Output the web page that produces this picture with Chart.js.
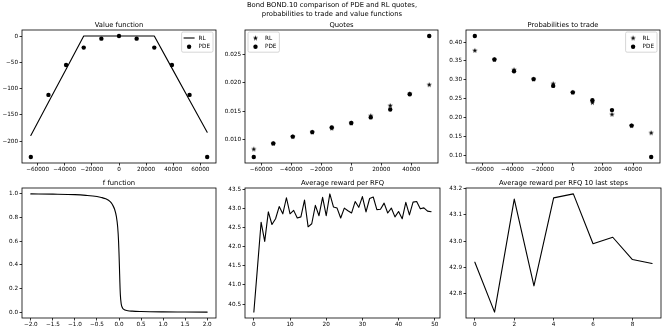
<!DOCTYPE html>
<html>
<head>
<meta charset="utf-8">
<script src="https://cdn.jsdelivr.net/npm/chart.js@4.4.1/dist/chart.umd.min.js"></script>
<style>
  html, body { margin: 0; padding: 0; background: #fff; }
  #page { position: relative; width: 664px; height: 332px; overflow: hidden; }
  .panel { position: absolute; }
  #sup { position: absolute; left: 0; top: 0; }
</style>
</head>
<body>
<div id="page">
  <canvas id="sup" width="664" height="20"></canvas>
  <div class="panel" id="p0"><canvas id="c0"></canvas></div>
  <div class="panel" id="p1"><canvas id="c1"></canvas></div>
  <div class="panel" id="p2"><canvas id="c2"></canvas></div>
  <div class="panel" id="p3"><canvas id="c3"></canvas></div>
  <div class="panel" id="p4"><canvas id="c4"></canvas></div>
  <div class="panel" id="p5"><canvas id="c5"></canvas></div>
</div>
<script>
// ---- data ----
const suptitleLines = ['Bond BOND.10 comparison of PDE and RL quotes,', 'probabilities to trade and value functions'];

const inventoryValue = [-65000, -52000, -39000, -26000, -13000, 0, 13000, 26000, 39000, 52000, 65000];
const valueRL  = [-189, -126, -63, 0, 0, 0, 0, 0, -61, -122, -183];
const valuePDE = [-230, -112, -55, -22, -5, 0, -5, -22, -55, -112, -230];

const inventoryQuote = [-65000, -52000, -39000, -26000, -13000, 0, 13000, 26000, 39000, 52000];
const quoteRL  = [0.0083, 0.0093, 0.0105, 0.0113, 0.0120, 0.0129, 0.0142, 0.0160, 0.0181, 0.0197];
const quotePDE = [0.0069, 0.0093, 0.0105, 0.0113, 0.0121, 0.0129, 0.0139, 0.0153, 0.0180, 0.0283];
const probRL   = [0.378, 0.354, 0.327, 0.302, 0.290, 0.267, 0.240, 0.209, 0.179, 0.160];
const probPDE  = [0.416, 0.354, 0.323, 0.302, 0.284, 0.267, 0.246, 0.220, 0.179, 0.096];

const fX = [-2.0, -1.5, -1.0, -0.75, -0.5, -0.4, -0.3, -0.2, -0.15, -0.1, -0.06, -0.03, -0.01, 0, 0.01, 0.02, 0.03, 0.05, 0.08, 0.1, 0.2, 0.3, 0.5, 1.0, 1.5, 2.0];
const fY = [1.0, 0.998, 0.994, 0.988, 0.978, 0.97, 0.958, 0.935, 0.91, 0.87, 0.81, 0.72, 0.6, 0.5, 0.38, 0.25, 0.15, 0.07, 0.035, 0.025, 0.012, 0.008, 0.005, 0.002, 0.001, 0.0];

const rewardPerRFQ = [40.29, 41.46, 42.64, 42.14, 42.91, 42.58, 42.73, 43.05, 42.86, 43.28,
                      42.86, 42.95, 42.75, 42.78, 43.22, 42.52, 42.60, 43.08, 42.81, 43.29,
                      42.81, 43.38, 43.04, 43.01, 42.75, 43.01, 42.94, 42.88, 43.18, 43.03,
                      43.31, 42.91, 43.26, 43.30, 42.97, 42.98, 43.14, 42.88, 43.01, 42.78,
                      42.92, 42.73, 43.16, 42.83, 43.165, 43.18, 42.99, 43.015, 42.93, 42.915];
const lastSteps = [42.92, 42.73, 43.16, 42.83, 43.165, 43.18, 42.99, 43.015, 42.93, 42.915];

// tick values
const invTicks = [-60000, -40000, -20000, 0, 20000, 40000, 60000];
const invTicksShort = [-60000, -40000, -20000, 0, 20000, 40000];
const valueTicks = [-200, -150, -100, -50, 0];
const quoteTicks = [0.010, 0.015, 0.020, 0.025];
const probTicks = [0.10, 0.15, 0.20, 0.25, 0.30, 0.35, 0.40];
const fXTicks = [-2.0, -1.5, -1.0, -0.5, 0.0, 0.5, 1.0, 1.5, 2.0];
const fYTicks = [0.0, 0.2, 0.4, 0.6, 0.8, 1.0];
const rewardXTicks = [0, 10, 20, 30, 40, 50];
const rewardYTicks = [40.5, 41.0, 41.5, 42.0, 42.5, 43.0, 43.5];
const lastXTicks = [0, 2, 4, 6, 8];
const lastYTicks = [42.8, 42.9, 43.0, 43.1, 43.2];

// ---- helpers ----
const FONT = '"DejaVu Sans", sans-serif';
const AX_W = 42, AX_H = 16, PAD_T = 14, PAD_R = 4;
const minus = s => s.replace('-', '\u2212');

// figure title
(function () {
  const g = document.getElementById('sup').getContext('2d');
  g.fillStyle = '#000';
  g.font = '6.8px ' + FONT;
  g.textAlign = 'center';
  g.textBaseline = 'middle';
  suptitleLines.forEach((t, i) => g.fillText(t, 332, 5 + i * 9));
})();

// filled five point star like matplotlib '*'
const starImg = document.createElement('canvas');
starImg.width = 7; starImg.height = 7;
(function () {
  const g = starImg.getContext('2d');
  g.beginPath();
  for (let k = 0; k < 10; k++) {
    const r = k % 2 === 0 ? 2.7 : 1.1;
    const ang = -Math.PI / 2 + k * Math.PI / 5;
    const px = 3.5 + r * Math.cos(ang), py = 3.7 + r * Math.sin(ang);
    if (k === 0) g.moveTo(px, py); else g.lineTo(px, py);
  }
  g.closePath();
  g.fillStyle = '#000';
  g.fill();
})();

const framePlugin = {
  id: 'frame',
  afterDraw(chart, args, opts) {
    const a = chart.chartArea, ctx = chart.ctx;
    ctx.save();
    ctx.strokeStyle = '#000';
    ctx.lineWidth = 0.8;
    ctx.strokeRect(a.left, a.top, a.right - a.left, a.bottom - a.top);
    if (opts.title) {
      ctx.fillStyle = '#000';
      ctx.font = '6.8px ' + FONT;
      ctx.textAlign = 'center';
      ctx.textBaseline = 'alphabetic';
      ctx.fillText(opts.title, (a.left + a.right) / 2, a.top - 3.5);
    }
    ctx.restore();
  }
};

const legendPlugin = {
  id: 'mplLegend',
  afterDraw(chart, args, opts) {
    if (!opts.items) return;
    const a = chart.chartArea, ctx = chart.ctx;
    ctx.save();
    ctx.font = '5.7px ' + FONT;
    const textW = Math.max(...opts.items.map(it => ctx.measureText(it.label).width));
    const handle = 11, gap = 4, padL = 2, padR = 3, rowH = 8.7;
    const w = padL + handle + gap + textW + padR;
    const h = 6 + rowH * (opts.items.length - 1) + 5.5;
    const x0 = opts.corner === 'left' ? a.left + 3 : a.right - 3 - w;
    const y0 = a.top + 2;
    ctx.beginPath();
    ctx.roundRect(x0, y0, w, h, 1.5);
    ctx.fillStyle = 'rgba(255,255,255,0.8)';
    ctx.fill();
    ctx.strokeStyle = '#cccccc';
    ctx.lineWidth = 0.8;
    ctx.stroke();
    opts.items.forEach((it, i) => {
      const cy = y0 + 6 + i * rowH;
      const cx = x0 + padL + handle / 2;
      ctx.fillStyle = '#000';
      ctx.strokeStyle = '#000';
      if (it.type === 'line') {
        ctx.lineWidth = 1.1;
        ctx.beginPath();
        ctx.moveTo(x0 + padL, cy);
        ctx.lineTo(x0 + padL + handle, cy);
        ctx.stroke();
      } else if (it.type === 'circle') {
        ctx.beginPath();
        ctx.arc(cx, cy, 2.2, 0, Math.PI * 2);
        ctx.fill();
      } else {
        ctx.drawImage(starImg, cx - 3.5, cy - 3.5);
      }
      ctx.textAlign = 'left';
      ctx.textBaseline = 'middle';
      ctx.fillText(it.label, x0 + padL + handle + gap, cy + 0.3);
    });
    ctx.restore();
  }
};

function axis(min, max, ticks, fmt, isY) {
  return {
    type: 'linear',
    min: min, max: max,
    afterBuildTicks: s => { s.ticks = ticks.map(v => ({ value: v })); },
    afterFit: s => { if (isY) s.width = AX_W; else s.height = AX_H; },
    grid: { display: true, drawOnChartArea: false, drawTicks: true, tickLength: 2.5, tickColor: '#000', tickWidth: 0.8 },
    border: { display: false },
    ticks: {
      autoSkip: false, maxRotation: 0, padding: isY ? 1.5 : 1,
      color: '#000', font: { family: FONT, size: 5.7 },
      callback: v => minus(fmt(v))
    }
  };
}

const pts = (xs, ys) => xs.map((x, i) => ({ x: x, y: ys[i] }));
const lineSet = (data) => ({ data: data, showLine: true, borderColor: '#000', borderWidth: 1.1, borderJoinStyle: 'round', borderCapStyle: 'round', pointRadius: 0, tension: 0, order: 1 });
const circleSet = (data) => ({ data: data, pointStyle: 'circle', pointRadius: 2.2, backgroundColor: '#000', borderColor: '#000', borderWidth: 0, order: 0 });
const starSet = (data) => ({ data: data, pointStyle: starImg, pointRadius: 3, order: 1 });

function makeChart(n, rect, datasets, xs, ys, title, legend) {
  const w = (rect.r - rect.l) + AX_W + PAD_R;
  const h = (rect.b - rect.t) + PAD_T + AX_H;
  const panel = document.getElementById('p' + n);
  panel.style.left = (rect.l - AX_W) + 'px';
  panel.style.top = (rect.t - PAD_T) + 'px';
  const cv = document.getElementById('c' + n);
  cv.width = w; cv.height = h;
  cv.style.width = w + 'px'; cv.style.height = h + 'px';
  new Chart(cv, {
    type: 'scatter',
    data: { datasets: datasets },
    options: {
      responsive: false, animation: false, devicePixelRatio: 1,
      layout: { padding: { top: PAD_T, right: PAD_R, left: 0, bottom: 0 } },
      scales: { x: xs, y: ys },
      plugins: {
        legend: { display: false }, tooltip: { enabled: false },
        frame: { title: title },
        mplLegend: legend || {}
      }
    },
    plugins: [framePlugin, legendPlugin]
  });
}

const intFmt = v => String(Math.round(v));
const fix = d => (v => v.toFixed(d));

makeChart(0, { l: 22, t: 30, r: 216, b: 163 },
  [lineSet(pts(inventoryValue, valueRL)), circleSet(pts(inventoryValue, valuePDE))],
  axis(-71500, 71500, invTicks, intFmt, false),
  axis(-241.5, 11.5, valueTicks, intFmt, true),
  'Value function',
  { corner: 'right', items: [{ label: 'RL', type: 'line' }, { label: 'PDE', type: 'circle' }] });

makeChart(1, { l: 245, t: 30, r: 439, b: 163 },
  [starSet(pts(inventoryQuote, quoteRL)), circleSet(pts(inventoryQuote, quotePDE))],
  axis(-70850, 57850, invTicksShort, intFmt, false),
  axis(0.00583, 0.02937, quoteTicks, fix(3), true),
  'Quotes',
  { corner: 'left', items: [{ label: 'RL', type: 'star' }, { label: 'PDE', type: 'circle' }] });

makeChart(2, { l: 466, t: 30, r: 661, b: 163 },
  [starSet(pts(inventoryQuote, probRL)), circleSet(pts(inventoryQuote, probPDE))],
  axis(-70850, 57850, invTicksShort, intFmt, false),
  axis(0.080, 0.432, probTicks, fix(2), true),
  'Probabilities to trade',
  { corner: 'right', items: [{ label: 'RL', type: 'star' }, { label: 'PDE', type: 'circle' }] });

// smooth curve; monotone interpolation also avoids the same-pixel fast path
const fSet = Object.assign(lineSet(pts(fX, fY)), { cubicInterpolationMode: 'monotone' });
makeChart(3, { l: 22, t: 188, r: 216, b: 318 },
  [fSet],
  axis(-2.2, 2.2, fXTicks, fix(1), false),
  axis(-0.05, 1.05, fYTicks, fix(1), true),
  'f function', null);

makeChart(4, { l: 245, t: 188, r: 440, b: 318 },
  [lineSet(pts(rewardPerRFQ.map((v, i) => i), rewardPerRFQ))],
  axis(-2.45, 51.45, rewardXTicks, intFmt, false),
  axis(40.135, 43.535, rewardYTicks, fix(1), true),
  'Average reward per RFQ', null);

makeChart(5, { l: 466, t: 188, r: 661, b: 318 },
  [lineSet(pts(lastSteps.map((v, i) => i), lastSteps))],
  axis(-0.45, 9.45, lastXTicks, intFmt, false),
  axis(42.7075, 43.2025, lastYTicks, fix(1), true),
  'Average reward per RFQ 10 last steps', null);
</script>
</body>
</html>
